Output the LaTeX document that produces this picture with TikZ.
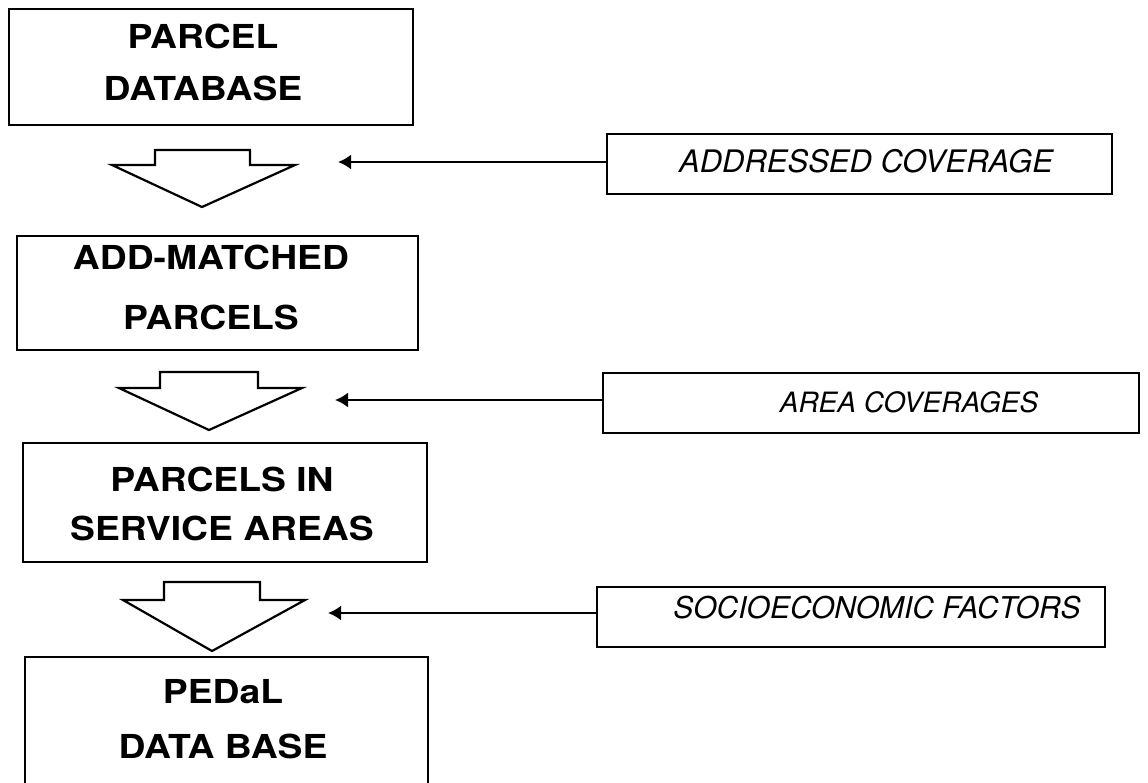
\documentclass[tikz,border=0pt]{standalone}
\usepackage{fontspec}
\usetikzlibrary{arrows.meta}
\newfontfamily\stagefont{TeX Gyre Heros}[FakeStretch=1.13]
\newfontfamily\inputfont{TeX Gyre Heros}

\begin{document}
\begin{tikzpicture}[x=1pt,y=-1pt,
  frame/.style={draw, line width=2.3pt, inner sep=0pt},
  stagetext/.style={inner sep=0pt, align=center},
  inputtext/.style={inner sep=0pt, anchor=base},
  bigarrow/.style={draw, line width=2.2pt, line join=miter, fill=white},
  feed/.style={line width=2.2pt, -{Latex[length=13pt,width=15pt]}}]
\useasboundingbox (0,0) rectangle (1148,782);
\clip (0,0) rectangle (1148,782);

% processing stages (left column)
\node[frame, minimum width=404pt, minimum height=116pt] (b1) at (211,67) {};
\node[frame, minimum width=401pt, minimum height=114pt] (b2) at (217.5,293) {};
\node[frame, minimum width=404pt, minimum height=119pt] (b3) at (225,502.5) {};
\node[frame, minimum width=403pt, minimum height=163pt] (b4) at (226.5,738.5) {};

\node[stagetext, font={\stagefont\bfseries\fontsize{33}{52}\selectfont}] (t1) at (203,62.5) {PARCEL\\DATABASE};
\node[stagetext, font={\stagefont\bfseries\fontsize{33}{60}\selectfont}] (t2) at (211,287) {ADD-MATCHED\\PARCELS};
\node[stagetext, font={\stagefont\bfseries\fontsize{33}{49}\selectfont}] (t3) at (222,504) {PARCELS IN\\SERVICE AREAS};
\node[stagetext, font={\stagefont\bfseries\fontsize{33}{55}\selectfont}] (t4) at (223,719) {PEDaL\\DATA BASE};

% hollow block arrows between the stages
\draw[bigarrow] (155,150) -- (250,150) -- (250,165) -- (295,165) -- (202,207)
  -- (112,165) -- (155,165) -- cycle;
\draw[bigarrow] (160,372) -- (258,372) -- (258,388) -- (302,388) -- (209,430)
  -- (119,388) -- (160,388) -- cycle;
\draw[bigarrow] (164,582) -- (260,582) -- (260,600) -- (305,600) -- (212,651)
  -- (123,600) -- (164,600) -- cycle;

% data inputs (right column)
\node[frame, minimum width=505pt, minimum height=60pt] (ac) at (859.5,164) {};
\node[frame, minimum width=536pt, minimum height=60pt] (ar) at (871,403) {};
\node[frame, minimum width=508pt, minimum height=60pt] (se) at (851,617) {};

\node[inputtext, font={\inputfont\itshape\fontsize{31}{36}\selectfont}] (tac) at (866,172) {ADDRESSED COVERAGE};
\node[inputtext, font={\inputfont\itshape\fontsize{28}{33}\selectfont}] (tar) at (909,412) {AREA COVERAGES};
\node[inputtext, font={\inputfont\itshape\fontsize{30}{35}\selectfont}] (tse) at (877,618) {SOCIOECONOMIC FACTORS};

% input feeds
\coordinate (h1) at (338,162);
\coordinate (h2) at (335,400);
\coordinate (h3) at (328,613);
\draw[feed] (ac.west |- h1) -- (h1);
\draw[feed] (ar.west |- h2) -- (h2);
\draw[feed] (se.west |- h3) -- (h3);
\end{tikzpicture}
\end{document}
